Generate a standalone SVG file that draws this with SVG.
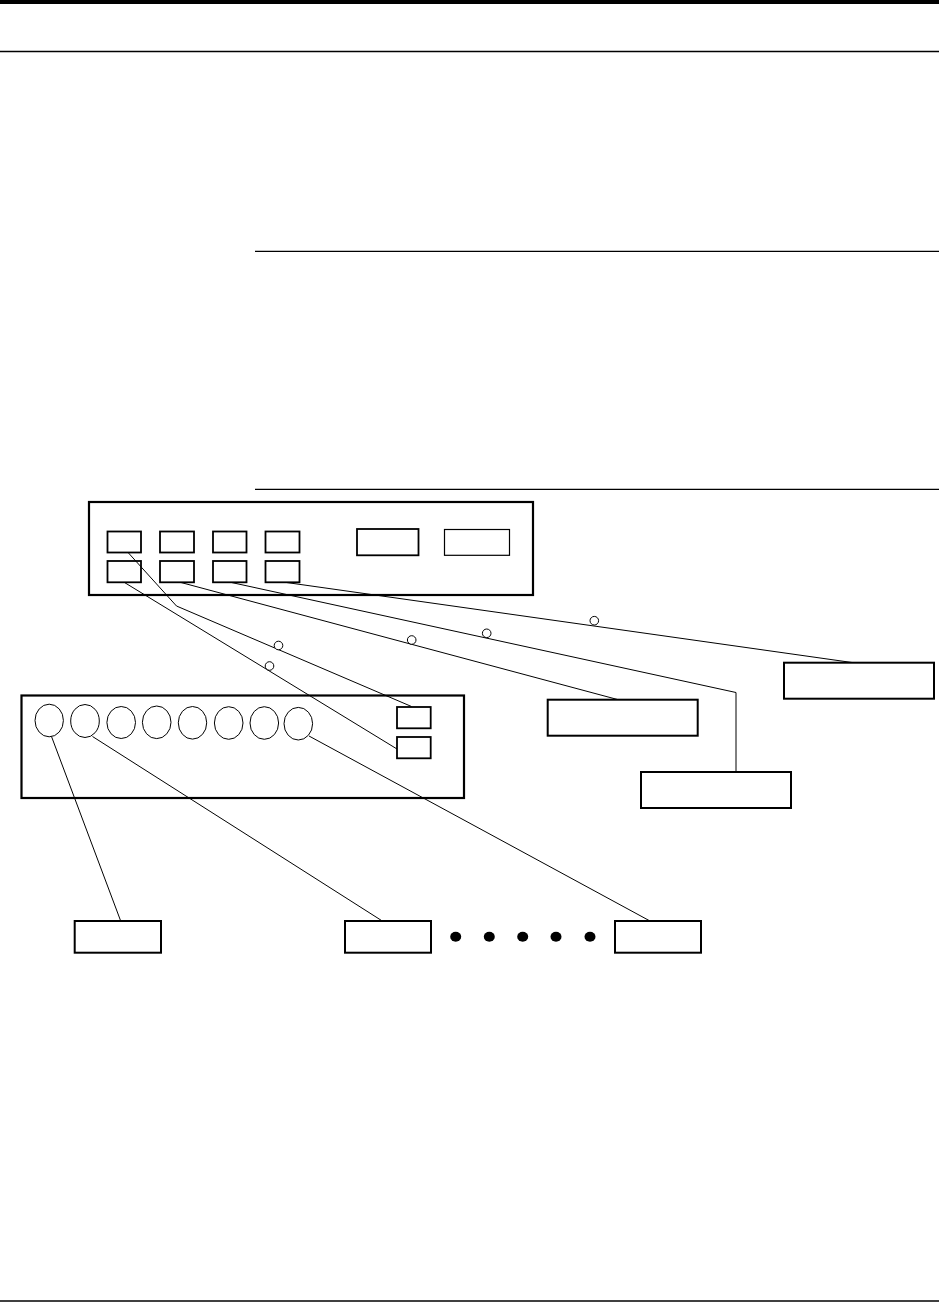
<svg xmlns="http://www.w3.org/2000/svg" width="939" height="1303" viewBox="0 0 939 1303">
<style>
.frame{fill:#fff;stroke:#000;stroke-width:2.2}
.port{fill:#fff;stroke:#000;stroke-width:1.8}
.thin{fill:#fff;stroke:#000;stroke-width:1.2}
.jack{fill:#fff;stroke:#000;stroke-width:1}
.lbl{fill:#fff;stroke:#000;stroke-width:2}
.wire{fill:none;stroke:#000;stroke-width:1}
.ring{fill:#fff;stroke:#000;stroke-width:1}
.dot{fill:#000}
.rule{stroke:#000}
</style>
<rect width="939" height="1303" fill="#fff"/>
<g id="page-rules">
<rect x="0" y="0" width="939" height="4" fill="#000"/>
<line class="rule" x1="0" y1="51.5" x2="939" y2="51.5" stroke-width="1.5"/>
<line class="rule" x1="255" y1="251.3" x2="939" y2="251.3" stroke-width="1.3"/>
<line class="rule" x1="255" y1="489.3" x2="939" y2="489.3" stroke-width="1.3"/>
<line class="rule" x1="0" y1="1301" x2="939" y2="1301" stroke-width="1.3"/>
</g>
<g id="unit-top">
<rect class="frame" x="89" y="502" width="444" height="93"/>
<rect class="port" x="107.5" y="531.5" width="33.5" height="21"/>
<rect class="port" x="160" y="531.5" width="34" height="21"/>
<rect class="port" x="213" y="531.5" width="33.5" height="21"/>
<rect class="port" x="265.5" y="531.5" width="34" height="21"/>
<rect class="port" x="107.5" y="561" width="33.5" height="21.3"/>
<rect class="port" x="160" y="561" width="34" height="21.3"/>
<rect class="port" x="213" y="561" width="33.5" height="21.3"/>
<rect class="port" x="265.5" y="561" width="34" height="21.3"/>
<rect class="port" x="357" y="529" width="61.5" height="26.3" stroke-width="2.2"/>
<rect class="thin" x="444.5" y="529.5" width="65" height="25.8"/>
</g>
<g id="unit-bottom">
<rect class="frame" x="21.5" y="695.5" width="442.5" height="102.5"/>
<ellipse class="jack" cx="49.2" cy="720.5" rx="14.2" ry="16.3"/>
<ellipse class="jack" cx="85" cy="721" rx="14.3" ry="16.5"/>
<ellipse class="jack" cx="121.2" cy="722.5" rx="14.3" ry="16"/>
<ellipse class="jack" cx="156.7" cy="722.3" rx="14.3" ry="16.3"/>
<ellipse class="jack" cx="192.5" cy="722.8" rx="14.2" ry="16.3"/>
<ellipse class="jack" cx="228.7" cy="723" rx="14.3" ry="16.3"/>
<ellipse class="jack" cx="264.3" cy="723" rx="14.3" ry="16.3"/>
<ellipse class="jack" cx="298.3" cy="723.7" rx="14.3" ry="16.3"/>
<rect class="port" x="397" y="707" width="33.7" height="21.3" stroke-width="2"/>
<rect class="port" x="397" y="737" width="33.7" height="21.3" stroke-width="2.2"/>
</g>
<g id="label-a"><rect class="lbl" x="784" y="662.7" width="150" height="36"/></g>
<g id="label-b"><rect class="lbl" x="547.7" y="699.7" width="150" height="36"/></g>
<g id="label-c"><rect class="lbl" x="641" y="772" width="150" height="36"/></g>
<g id="label-1"><rect class="lbl" x="74.7" y="921" width="86.3" height="31.7"/></g>
<g id="label-2"><rect class="lbl" x="345" y="921" width="86" height="31.7"/></g>
<g id="label-n"><rect class="lbl" x="615" y="921" width="86" height="31.7"/></g>
<g id="ellipsis">
<ellipse class="dot" cx="455.7" cy="936.7" rx="5.5" ry="5"/>
<ellipse class="dot" cx="489.3" cy="936.7" rx="5.5" ry="5"/>
<ellipse class="dot" cx="522.7" cy="936.7" rx="5.5" ry="5"/>
<ellipse class="dot" cx="556" cy="936.7" rx="5.5" ry="5"/>
<ellipse class="dot" cx="590" cy="936.7" rx="5.5" ry="5"/>
</g>
<g id="connectors">
<polyline class="wire" points="128.5,553 176.5,606 411.5,706.5"/>
<line class="wire" x1="124.5" y1="582.5" x2="397" y2="749"/>
<line class="wire" x1="181" y1="582.5" x2="617.5" y2="699.5"/>
<polyline class="wire" points="231.5,582.5 736,692.5 736,772"/>
<line class="wire" x1="286.5" y1="582.5" x2="852" y2="662.5"/>
<line class="wire" x1="51.5" y1="736.5" x2="120.7" y2="921"/>
<line class="wire" x1="92.5" y1="736.5" x2="382.3" y2="921"/>
<line class="wire" x1="309" y1="736" x2="650" y2="921"/>
<circle class="ring" cx="278.5" cy="645.5" r="4.3"/>
<circle class="ring" cx="269.5" cy="666" r="4.3"/>
<circle class="ring" cx="411.7" cy="640" r="4.3"/>
<circle class="ring" cx="486.7" cy="633.3" r="4.3"/>
<circle class="ring" cx="594.3" cy="620.7" r="4.3"/>
</g>
</svg>
